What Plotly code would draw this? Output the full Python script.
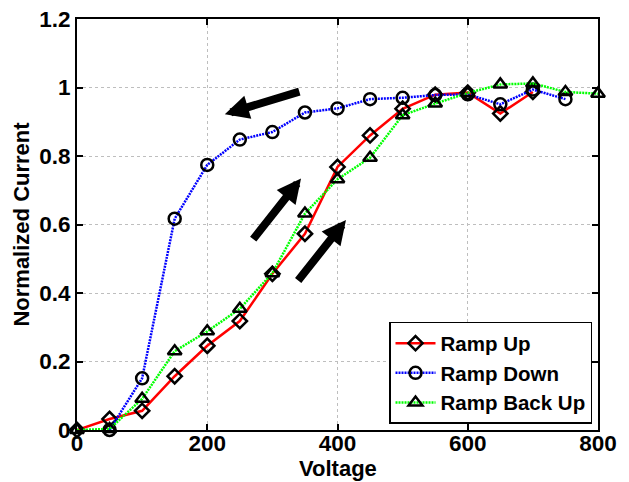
import plotly.graph_objects as go

# Data
up_x = [0, 50, 100, 150, 200, 250, 300, 350, 400, 450, 500, 550, 600, 650, 700]
up_y = [0.0, 0.032, 0.056, 0.157, 0.246, 0.318, 0.456, 0.573, 0.768, 0.860, 0.938, 0.979, 0.985, 0.924, 0.987]

down_x = [50, 100, 150, 200, 250, 300, 350, 400, 450, 500, 550, 600, 650, 700, 750]
down_y = [0.0, 0.151, 0.617, 0.774, 0.848, 0.870, 0.927, 0.939, 0.966, 0.970, 0.978, 0.980, 0.951, 0.994, 0.966]

back_x = [0, 50, 100, 150, 200, 250, 300, 350, 400, 450, 500, 550, 600, 650, 700, 750, 800]
back_y = [0.0, 0.003, 0.091, 0.230, 0.288, 0.354, 0.458, 0.632, 0.732, 0.795, 0.919, 0.953, 0.984, 1.009, 1.012, 0.987, 0.982]

x_ticks = [0, 200, 400, 600, 800]
y_ticks = [0, 0.2, 0.4, 0.6, 0.8, 1.0, 1.2]
y_tick_text = ["0", "0.2", "0.4", "0.6", "0.8", "1", "1.2"]

FONT = dict(family="Liberation Sans, Arial, sans-serif", color="black", weight="bold")

fig = go.Figure()
fig.add_trace(go.Scatter(
    x=up_x, y=up_y, name="Ramp Up", mode="lines+markers",
    line=dict(color="rgb(255,0,0)", width=2.5),
    marker=dict(symbol="diamond-open", size=11, color="black", line=dict(color="black", width=2.5)),
    cliponaxis=False,
))
fig.add_trace(go.Scatter(
    x=down_x, y=down_y, name="Ramp Down", mode="lines+markers",
    line=dict(color="rgb(0,0,255)", width=2.5, dash="2px,1px"),
    marker=dict(symbol="circle-open", size=12, color="black", line=dict(color="black", width=2.5)),
    cliponaxis=False,
))
fig.add_trace(go.Scatter(
    x=back_x, y=back_y, name="Ramp Back Up", mode="lines+markers",
    line=dict(color="rgb(0,255,0)", width=2.5, dash="2px,1px"),
    marker=dict(symbol="triangle-up-open", size=12, color="black", line=dict(color="black", width=2.5)),
    cliponaxis=False,
))

arrows = [
    dict(x=227, y=0.922, ax=76, ay=-23),
    dict(x=344, y=0.734, ax=-49, ay=62),
    dict(x=413, y=0.613, ax=-49, ay=62),
]
for a in arrows:
    fig.add_annotation(x=a["x"], y=a["y"], ax=a["ax"], ay=a["ay"], xref="x", yref="y",
                       text="", showarrow=True, arrowhead=2, arrowwidth=8,
                       arrowsize=0.6, arrowcolor="black")

# x-axis title placed as paper annotation (reference title sits just below tick labels)
fig.add_annotation(x=0.5, y=-0.0945, xref="paper", yref="paper", text="Voltage",
                   showarrow=False, xanchor="center", yanchor="middle",
                   font=dict(size=22, **FONT))

axis_common = dict(
    showline=True, linecolor="black", linewidth=2, mirror="ticks",
    ticks="inside", ticklen=6, tickwidth=1.5, tickcolor="black",
    showgrid=True, gridcolor="rgb(190,190,190)", gridwidth=1, griddash="dot",
    zeroline=False, tickfont=dict(size=22.5, **FONT), automargin=False,
)

fig.update_xaxes(range=[0, 800], tickvals=x_ticks, ticktext=[str(v) for v in x_ticks],
                 ticklabelstandoff=-8,
                 **axis_common)
fig.update_yaxes(range=[0, 1.2], tickvals=y_ticks, ticktext=y_tick_text,
                 ticklabelstandoff=0,
                 title=dict(text="Normalized Current", font=dict(size=22, **FONT), standoff=4),
                 **axis_common)

fig.update_layout(
    width=629, height=482,
    margin=dict(l=77, r=31, t=19, b=52),
    paper_bgcolor="white", plot_bgcolor="white",
    showlegend=True,
    legend=dict(x=0.9885, y=0.015, xanchor="right", yanchor="bottom",
                bgcolor="white", bordercolor="black", borderwidth=1.5,
                font=dict(size=20.5, **FONT), tracegroupgap=0, itemwidth=40),
)

fig.write_html("out.html")
